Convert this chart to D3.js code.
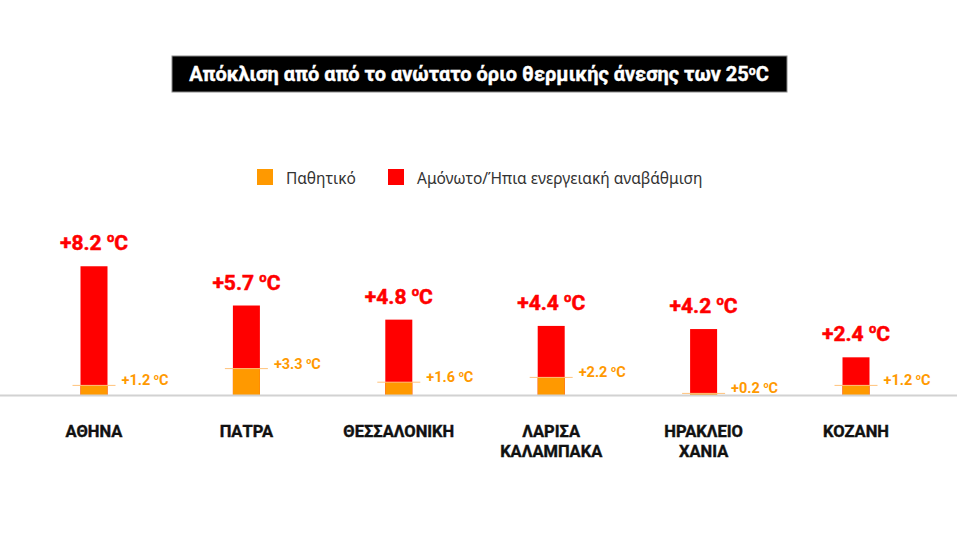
<!DOCTYPE html>
<html>
<head>
<meta charset="utf-8">
<script src="https://cdn.jsdelivr.net/npm/d3@7"></script>
<style>
  html, body { margin: 0; padding: 0; background: #fff; }
  svg { display: block; }
</style>
</head>
<body>
<script>
// ---- data ----
const titleText = "Απόκλιση από από το ανώτατο όριο θερμικής άνεσης των 25";
const categories = ["ΑΘΗΝΑ", "ΠΑΤΡΑ", "ΘΕΣΣΑΛΟΝΙΚΗ", "ΛΑΡΙΣΑ\nΚΑΛΑΜΠΑΚΑ", "ΗΡΑΚΛΕΙΟ\nΧΑΝΙΑ", "ΚΟΖΑΝΗ"];
const uninsulated = [8.2, 5.7, 4.8, 4.4, 4.2, 2.4];   // Αμόνωτο/Ήπια ενεργειακή αναβάθμιση
const passive = [1.2, 3.3, 1.6, 2.2, 0.2, 1.2];       // Παθητικό
const seriesNames = ["Παθητικό", "Αμόνωτο/Ήπια ενεργειακή αναβάθμιση"];

const W = 960, H = 540;
const RED = "#ff0000", ORANGE = "#ff9900";
const FONT = "Roboto, 'Noto Sans', sans-serif";

const svg = d3.select("body").append("svg").attr("width", W).attr("height", H);

// ---- title ----
svg.append("rect").attr("x", 172).attr("y", 56).attr("width", 615).attr("height", 36)
  .attr("fill", "#000").attr("stroke", "#8a8a8a").attr("stroke-width", 1);
const t = svg.append("text").attr("x", 479).attr("y", 81.5).attr("text-anchor", "middle")
  .attr("fill", "#fff").attr("font-family", FONT).attr("font-weight", 700).attr("font-size", 19.5)
  .attr("stroke", "#fff").attr("stroke-width", 0.4);
t.append("tspan").text(titleText);
t.append("tspan").attr("font-size", 12).attr("dy", -6).text("o");
t.append("tspan").attr("dy", 6).text("C");
{
  const bb = t.node().getComputedTextLength();
  const target = 580;
  if (bb > 0) t.attr("transform", `translate(479,0) scale(${target / bb},1) translate(-479,0)`);
}

// ---- legend ----
const legend = [
  { name: seriesNames[0], color: ORANGE, x: 257 },
  { name: seriesNames[1], color: RED, x: 388 }
];
const lg = svg.append("g").selectAll("g").data(legend).join("g");
lg.append("rect").attr("x", d => d.x).attr("y", 169).attr("width", 16).attr("height", 16).attr("fill", d => d.color);
lg.append("text").attr("x", d => d.x + 29).attr("y", 184).attr("fill", "#333")
  .attr("font-family", "'Noto Sans', sans-serif").attr("font-size", 15.5).text(d => d.name);

// ---- scales ----
const x = d3.scalePoint().domain(categories).range([94, 856]);
const y = d3.scaleLinear().domain([0, 10]).range([395, 238]);
const yP = d3.scaleLinear().domain([0, 10]).range([395, 315]);
const bw = 27;

const data = categories.map((c, i) => ({ c, u: uninsulated[i], p: passive[i] }));
const g = svg.append("g");

// red bars
g.selectAll("rect.red").data(data).join("rect").attr("class", "red")
  .attr("x", d => x(d.c) - bw / 2).attr("width", bw)
  .attr("y", d => y(d.u)).attr("height", d => y(0) - y(d.u)).attr("fill", RED);

// orange bars
g.selectAll("rect.or").data(data).join("rect").attr("class", "or")
  .attr("x", d => x(d.c) - bw / 2).attr("width", bw)
  .attr("y", d => yP(d.p)).attr("height", d => yP(0) - yP(d.p)).attr("fill", ORANGE);

// orange guide lines
g.selectAll("line.og").data(data).join("line").attr("class", "og")
  .attr("x1", d => x(d.c) - bw / 2 - 8).attr("x2", d => x(d.c) + bw / 2 + 8)
  .attr("y1", d => yP(d.p)).attr("y2", d => yP(d.p))
  .attr("stroke", "#ffc27a").attr("stroke-width", 1);

// baseline
svg.append("line").attr("x1", 0).attr("x2", 957).attr("y1", 395.5).attr("y2", 395.5)
  .attr("stroke", "#d2d2d2").attr("stroke-width", 2);

// red value labels
const rl = g.selectAll("text.rl").data(data).join("text").attr("class", "rl")
  .attr("x", d => x(d.c)).attr("y", d => y(d.u) - 16).attr("text-anchor", "middle")
  .attr("fill", RED).attr("stroke", RED).attr("stroke-width", 0.5)
  .attr("font-family", FONT).attr("font-weight", 700).attr("font-size", 21);
rl.append("tspan").text(d => "+" + d.u.toFixed(1) + " ");
rl.append("tspan").attr("font-size", 13).attr("dy", -8).text("o");
rl.append("tspan").attr("dy", 8).text("C");

// orange value labels
const ol = g.selectAll("text.ol").data(data).join("text").attr("class", "ol")
  .attr("x", d => x(d.c) + bw / 2 + 14).attr("y", d => yP(d.p))
  .attr("fill", ORANGE).attr("font-family", FONT).attr("font-weight", 700).attr("font-size", 14.5);
ol.append("tspan").text(d => "+" + d.p.toFixed(1) + " ");
ol.append("tspan").attr("font-size", 9).attr("dy", -5).text("o");
ol.append("tspan").attr("dy", 5).text("C");

// category labels
const cl = g.selectAll("text.cl").data(data).join("text").attr("class", "cl")
  .attr("x", d => x(d.c)).attr("y", 437).attr("text-anchor", "middle")
  .attr("fill", "#111").attr("stroke", "#111").attr("stroke-width", 0.4)
  .attr("font-family", FONT).attr("font-weight", 700).attr("font-size", 16.5);
cl.selectAll("tspan").data(d => d.c.split("\n").map(s => ({ s, x: x(d.c) }))).join("tspan")
  .attr("x", d => d.x).attr("dy", (d, i) => i === 0 ? 0 : 19.5).text(d => d.s);
</script>
</body>
</html>
